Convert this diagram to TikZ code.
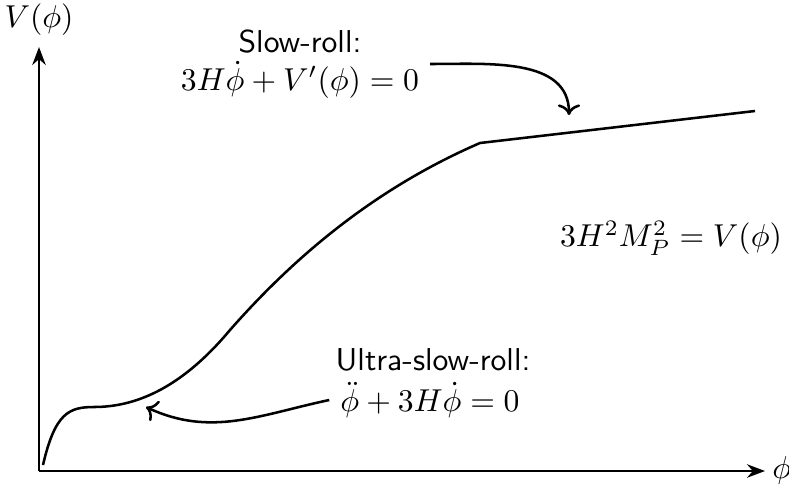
\documentclass[tikz,border=0pt]{standalone}
\usepackage{amsmath, amssymb}
\usepackage{tikz}
\usetikzlibrary{arrows.meta, positioning, calc}

\begin{document}
\begin{tikzpicture}[x=3.16pt, y=3.16pt]
  \useasboundingbox (-3.9,-1.2) rectangle (75.0,47.1);
  % axes
  \draw[-Stealth, semithick] (0,0) -- (0,42.4) node[above] (vlab) {$V(\phi)$};
  \draw[-Stealth, semithick] (0,0) -- (72.6,0) node[right, inner sep=2pt] (philab) {$\phi$};
  % potential with an inflection plateau
  \draw[thick] (0.4,0.6) .. controls (1.6,5.8) and (3.0,6.4) .. (5.5,6.4)
    .. controls (10,6.4) and (14.5,8.6) .. (19.1,14.1)
    .. controls (25,20.8) and (33,28) .. (44.1,32.8) -- (71.6,36.0);
  % labels
  \node[align=center] (slow) at (26.1,40.7) {\textsf{Slow-roll:}\\ $3H\dot{\phi}+V'(\phi)=0$};
  \node (fried) at (63.2,23.3) {$3H^2M_P^2=V(\phi)$};
  \node (usreq) at (39.1,7.1) {$\ddot{\phi}+3H\dot{\phi}=0$};
  \node (usr) at (39.4,11.1) {\textsf{Ultra-slow-roll:}};
  \coordinate (srtip) at (53.0,35.6);
  \coordinate (usrtip) at (10.7,6.4);
  \draw[->, thick] (slow.east) to[out=0, in=90] (srtip);
  \draw[->, thick] (usreq.west) to[out=192, in=-25] (usrtip);
\end{tikzpicture}
\end{document}
